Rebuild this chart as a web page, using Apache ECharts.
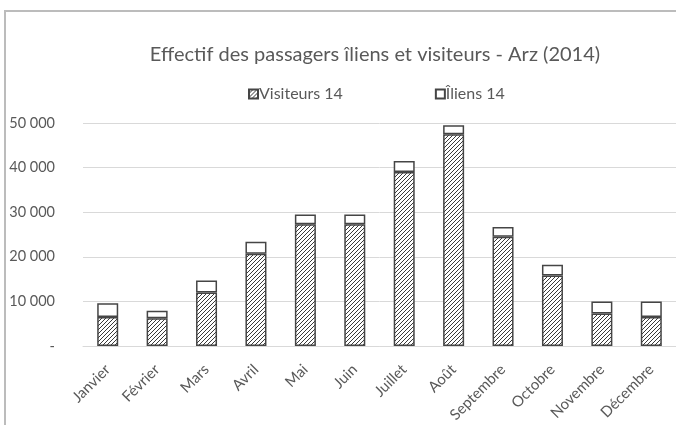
<!DOCTYPE html>
<html>
<head>
<meta charset="utf-8">
<title>Effectif des passagers îliens et visiteurs - Arz (2014)</title>
<script src="https://cdn.jsdelivr.net/npm/echarts@6/dist/echarts.min.js"></script>
<style>
    html, body { margin: 0; padding: 0; background: #fff; }
    #chart { width: 676px; height: 425px; }
</style>
</head>
<body>
<div id="chart"></div>
<script>
var months = ["Janvier", "Février", "Mars", "Avril", "Mai", "Juin", "Juillet", "Août", "Septembre", "Octobre", "Novembre", "Décembre"];
var visiteurs = [6500, 6200, 12000, 20700, 27300, 27300, 39000, 47500, 24500, 15800, 7300, 6500];
var iliens = [3100, 1700, 2700, 2700, 2200, 2200, 2500, 2000, 2200, 2400, 2700, 3500];
var yTicks = [0, 10000, 20000, 30000, 40000, 50000];

var font = "Lato, 'Liberation Sans', sans-serif";

// motif hachuré pour les visiteurs
function hatch() {
    var c = document.createElement("canvas");
    c.width = 4;
    c.height = 4;
    var ctx = c.getContext("2d");
    ctx.fillStyle = "#fff";
    ctx.fillRect(0, 0, 4, 4);
    ctx.strokeStyle = "#3a3a3a";
    ctx.lineWidth = 1;
    ctx.beginPath();
    ctx.moveTo(-1, 5); ctx.lineTo(5, -1);
    ctx.moveTo(-1, 1); ctx.lineTo(1, -1);
    ctx.moveTo(3, 5); ctx.lineTo(5, 3);
    ctx.stroke();
    return c;
}

function fmt(v) {
    if (v === 0) return "-";
    return String(v).replace(/\B(?=(\d{3})+(?!\d))/g, " ");
}

var chart = echarts.init(document.getElementById("chart"));
chart.setOption({
    animation: false,
    textStyle: { fontFamily: font },
    graphic: [{
        type: "rect",
        shape: { x: 5, y: 11, width: 720, height: 500 },
        style: { fill: "none", stroke: "#bcbcbc", lineWidth: 2 },
        silent: true
    }],
    title: {
        text: "Effectif des passagers îliens et visiteurs - Arz (2014)",
        left: 370,
        textAlign: "center",
        top: 40,
        textStyle: { fontFamily: font, fontSize: 20, fontWeight: "normal", color: "#595959" }
    },
    legend: {
        left: 243,
        top: 81,
        itemWidth: 9,
        itemHeight: 9,
        itemGap: 92,
        icon: "rect",
        textStyle: { fontFamily: font, fontSize: 16, color: "#595959", padding: [0, 0, 0, -4] },
        data: ["Visiteurs 14", "Îliens 14"]
    },
    grid: { left: 83, right: -13, top: 123, bottom: 79, containLabel: false },
    xAxis: {
        type: "category",
        data: months,
        axisLine: { lineStyle: { color: "#d9d9d9" } },
        axisTick: { show: false },
        axisLabel: { interval: 0, rotate: 45, fontSize: 15, color: "#595959", margin: 21, fontFamily: font }
    },
    yAxis: {
        type: "value",
        min: yTicks[0],
        max: yTicks[yTicks.length - 1],
        interval: 10000,
        axisLine: { show: false },
        axisTick: { show: false },
        splitLine: { lineStyle: { color: "#d9d9d9" } },
        axisLabel: { fontSize: 14.5, color: "#595959", margin: 28, fontFamily: font, formatter: fmt }
    },
    series: [{
        name: "Visiteurs 14",
        type: "bar",
        stack: "total",
        barWidth: 21,
        data: visiteurs,
        itemStyle: { color: { image: hatch(), repeat: "repeat" }, borderColor: "#454545", borderWidth: 1.5 }
    }, {
        name: "Îliens 14",
        type: "bar",
        stack: "total",
        barWidth: 21,
        data: iliens,
        itemStyle: { color: "#fff", borderColor: "#454545", borderWidth: 1.5 }
    }]
});
</script>
</body>
</html>
